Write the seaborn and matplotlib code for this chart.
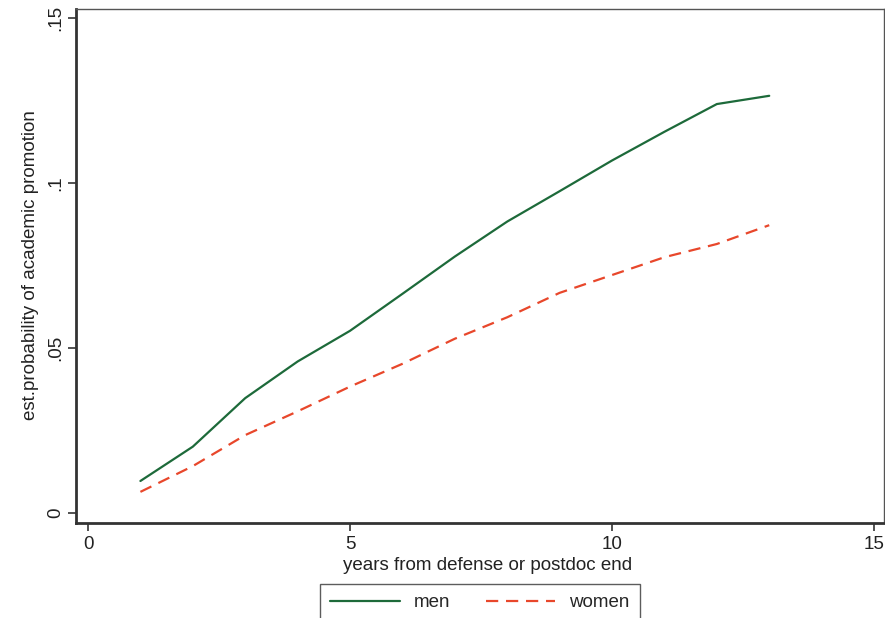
import matplotlib
matplotlib.use("Agg")
import matplotlib.pyplot as plt
import seaborn as sns
import pandas as pd

years = list(range(1, 14))
men = [0.0097, 0.0201, 0.0348, 0.0459, 0.0552, 0.0664, 0.0777, 0.0883, 0.0975, 0.1068, 0.1155, 0.1239, 0.1264]
women = [0.0064, 0.0142, 0.0236, 0.0308, 0.0383, 0.0452, 0.0528, 0.0593, 0.0667, 0.0721, 0.0775, 0.0815, 0.0872]
groups = ["men", "women"]
x_ticks = [0, 5, 10, 15]
y_ticks = [0, 0.05, 0.1, 0.15]
y_tick_labels = ["0", ".05", ".1", ".15"]

df = pd.DataFrame({
    "years": years * 2,
    "prob": men + women,
    "group": ["men"] * len(years) + ["women"] * len(years),
})

sns.set_theme(style="white")
plt.rcParams["font.family"] = ["Liberation Sans", "DejaVu Sans"]

FS = 13.5
fig = plt.figure(figsize=(8.85, 6.18), dpi=100)
ax = fig.add_axes([76 / 885, (618 - 523) / 618, (884 - 76) / 885, (523 - 9) / 618])

palette = {"men": "#1d6a3a", "women": "#e8472b"}
dashes = {"men": "", "women": (5.5, 3.5)}
sns.lineplot(data=df, x="years", y="prob", hue="group", style="group",
             palette=palette, dashes=dashes, linewidth=1.6, ax=ax, legend=False)

ax.set_xlim(-0.229, 15.19)
ax.set_ylim(-0.00303, 0.1527)
ax.set_xticks(x_ticks)
ax.set_xticklabels([str(t) for t in x_ticks])
ax.set_yticks(y_ticks)
ax.set_yticklabels(y_tick_labels, rotation=90, va="center")

ax.tick_params(axis="both", direction="out", length=5.5, width=1.2, color="#333333",
               labelsize=FS, labelcolor="#222222", pad=4, left=True, bottom=True)
ax.tick_params(axis="y", pad=3)

for s in ["left", "bottom"]:
    ax.spines[s].set_linewidth(2.0)
    ax.spines[s].set_color("#333333")
for s in ["top", "right"]:
    ax.spines[s].set_linewidth(1.0)
    ax.spines[s].set_color("#555555")

ax.set_xlabel("years from defense or postdoc end", fontsize=FS, color="#222222")
ax.set_ylabel("est.probability of academic promotion", fontsize=FS, color="#222222")
ax.xaxis.set_label_coords((488 - 76) / 808, -(566 - 523) / 514, transform=ax.transAxes)
ax.xaxis.label.set_va("center")
ax.yaxis.set_label_coords(-(76 - 31) / 808, (523 - 265) / 514, transform=ax.transAxes)
ax.yaxis.label.set_va("center")

handles = ax.get_lines()[:2]
leg = fig.legend(handles, groups, loc="upper center", bbox_to_anchor=(480 / 885, (618 - 584) / 618),
                 borderaxespad=0.0,
                 ncol=2, frameon=True, fancybox=False, fontsize=FS, handlelength=3.7,
                 columnspacing=1.9, handletextpad=0.75, borderpad=0.55, edgecolor="#333333")
leg.get_frame().set_linewidth(1.0)

fig.savefig("out.png", dpi=100, facecolor="white")
